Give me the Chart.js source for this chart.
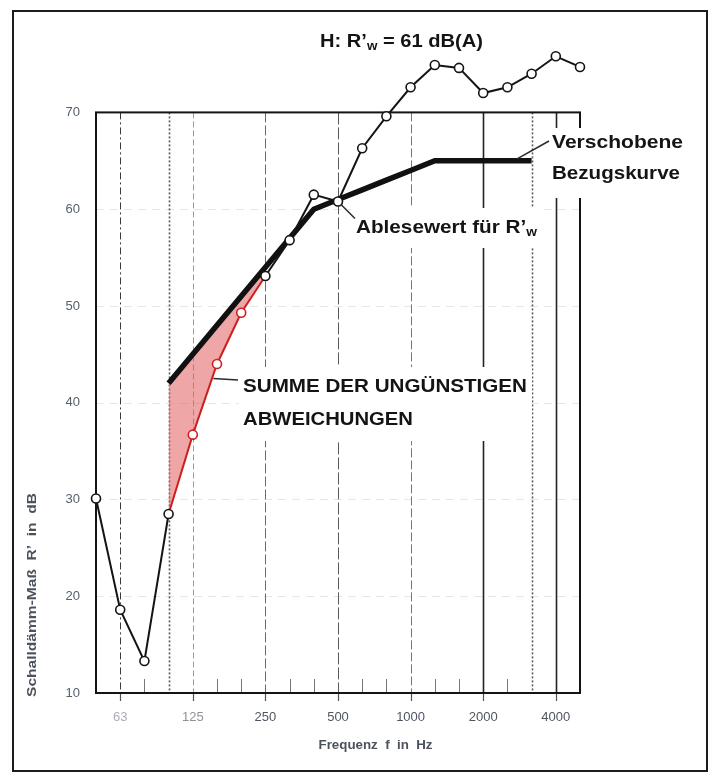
<!DOCTYPE html>
<html lang="de">
<head>
<meta charset="utf-8">
<title>Schalldämm-Maß R' – Bewertung</title>
<script src="https://cdn.jsdelivr.net/npm/chart.js@4.4.1/dist/chart.umd.min.js"></script>
<style>
  html, body { margin: 0; padding: 0; background: #ffffff; }
  #wrap { width: 712px; height: 781px; }
</style>
</head>
<body>
<div id="wrap"><canvas id="chart" width="712" height="781"></canvas></div>
<script>
// Terzbänder 50 Hz … 5000 Hz
const bands = ['50', '63', '80', '100', '125', '160', '200', '250', '315', '400', '500',
               '630', '800', '1000', '1250', '1600', '2000', '2500', '3150', '4000', '5000'];

// Beschriftete Oktavmittenfrequenzen
const tickLabels = ['63', '125', '250', '500', '1000', '2000', '4000'];

// y-Achse in dB
const yTicks = [10, 20, 30, 40, 50, 60, 70];

// Gemessenes Schalldämm-Maß R' in dB
const measured = [30.1, 18.6, 13.3, 28.5, 36.7, 44.0, 49.3, 53.1, 56.8, 61.5, 60.8,
                  66.3, 69.6, 72.6, 74.9, 74.6, 72.0, 72.6, 74.0, 75.8, 74.7];

// Bezugskurve nach DIN EN ISO 717-1, um +9 dB verschoben (100 … 3150 Hz)
const shiftedReference = [null, null, null, 42, 45, 48, 51, 54, 57, 60, 61,
                          62, 63, 64, 65, 65, 65, 65, 65, null, null];

// Messwerte unterhalb der verschobenen Bezugskurve (ungünstige Abweichungen)
const unfavourable = [null, null, null, 28.5, 36.7, 44.0, 49.3, 53.1, null, null, null,
                      null, null, null, null, null, null, null, null, null, null];

const RED = '#cc2020';
const INK = '#141414';
const FONT = '"Liberation Sans", Arial, Helvetica, sans-serif';

function boldFont(size) { return `bold ${size}px ${FONT}`; }

// Text in Teilen zeichnen (für Indizes), optional auf eine Breite gestreckt
function drawParts(ctx, parts, x, y, width) {
  const widths = parts.map(p => { ctx.font = boldFont(p.size); return ctx.measureText(p.text).width; });
  const total = widths.reduce((a, b) => a + b, 0);
  const sx = width ? width / total : 1;
  ctx.save();
  ctx.translate(x, y);
  ctx.scale(sx, 1);
  ctx.textBaseline = 'middle';
  ctx.textAlign = 'left';
  let cx = 0;
  parts.forEach((p, i) => {
    ctx.font = boldFont(p.size);
    ctx.fillText(p.text, cx, p.dy || 0);
    cx += widths[i];
  });
  ctx.restore();
}

function line(ctx, x1, y1, x2, y2) {
  ctx.beginPath(); ctx.moveTo(x1, y1); ctx.lineTo(x2, y2); ctx.stroke();
}

// Linienstile der senkrechten Rasterlinien (nach Bandindex)
const verticalGrid = {
  1:  { color: '#3a3a3a', width: 1,   dash: [7, 3, 2, 3] },
  3:  { color: '#5a5a5a', width: 1.6, dash: [2, 2] },
  4:  { color: '#9a9a9a', width: 1,   dash: [6, 3] },
  7:  { color: '#6a6a6a', width: 1,   dash: [10, 3] },
  10: { color: '#5a5a5a', width: 1,   dash: [12, 3] },
  13: { color: '#777777', width: 1,   dash: [9, 3] },
  16: { color: '#222222', width: 1.6, dash: [] },
  18: { color: '#5a5a5a', width: 1.6, dash: [2, 2] },
  19: { color: '#222222', width: 1.6, dash: [] }
};
const octaveIdx = [1, 4, 7, 10, 13, 16, 19];

const backgroundPlugin = {
  id: 'paperGrid',
  beforeDraw(chart) {
    const { ctx } = chart;
    ctx.save();
    ctx.fillStyle = '#ffffff';
    ctx.fillRect(0, 0, chart.width, chart.height);
    // Außenrahmen
    ctx.strokeStyle = '#1c1c1c';
    ctx.lineWidth = 2;
    ctx.strokeRect(13, 11, 694, 760);
    ctx.restore();
  },
  beforeDatasetsDraw(chart) {
    const { ctx, scales: { x, y } } = chart;
    const top = y.getPixelForValue(70);
    const bottom = y.getPixelForValue(10);
    const left = x.getPixelForValue(0);
    const right = x.getPixelForValue(bands.length - 1);
    ctx.save();

    // schwache waagerechte Rasterlinien
    ctx.strokeStyle = '#e6e6e6';
    ctx.lineWidth = 1;
    ctx.setLineDash([8, 6]);
    yTicks.slice(1, -1).forEach(v => {
      const py = Math.round(y.getPixelForValue(v)) + 0.5;
      line(ctx, left, py, right, py);
    });

    // senkrechte Rasterlinien
    Object.keys(verticalGrid).forEach(k => {
      const i = Number(k);
      const s = verticalGrid[i];
      const px = Math.round(x.getPixelForValue(i)) + 0.5;
      ctx.strokeStyle = s.color;
      ctx.lineWidth = s.width;
      ctx.setLineDash(s.dash);
      line(ctx, px, top, px, bottom);
    });
    ctx.setLineDash([]);

    // Oktavmarken unter der Grundlinie
    ctx.strokeStyle = '#555555';
    ctx.lineWidth = 1.2;
    octaveIdx.forEach(i => {
      const px = Math.round(x.getPixelForValue(i)) + 0.5;
      line(ctx, px, bottom, px, bottom + 8);
    });

    // kurze Terzmarken an der Grundlinie
    ctx.strokeStyle = '#777777';
    ctx.lineWidth = 1;
    bands.forEach((b, i) => {
      if (i === 0 || i === bands.length - 1 || verticalGrid[i]) return;
      const px = Math.round(x.getPixelForValue(i)) + 0.5;
      line(ctx, px, bottom, px, bottom - 14);
    });

    // Diagrammrahmen
    ctx.strokeStyle = INK;
    ctx.lineWidth = 2;
    ctx.strokeRect(left, top, right - left, bottom - top);
    ctx.restore();
  }
};

const annotationPlugin = {
  id: 'annotations',
  afterDatasetsDraw(chart) {
    const { ctx, scales: { x, y } } = chart;
    ctx.save();
    ctx.fillStyle = INK;
    ctx.strokeStyle = '#2a2a2a';
    ctx.lineWidth = 1.5;

    // Verschobene Bezugskurve
    ctx.fillStyle = '#ffffff';
    ctx.fillRect(546, 128, 158, 70);
    ctx.fillStyle = INK;
    line(ctx, x.getPixelForValue(17.4), y.getPixelForValue(65) - 2, 549, 141);
    drawParts(ctx, [{ text: 'Verschobene', size: 18 }], 552, 143, 131);
    drawParts(ctx, [{ text: 'Bezugskurve', size: 18 }], 552, 174, 128);

    // Ablesewert bei 500 Hz
    ctx.fillStyle = '#ffffff';
    ctx.fillRect(351, 208, 190, 40);
    ctx.fillStyle = INK;
    const ax = x.getPixelForValue(10), ay = y.getPixelForValue(measured[10]);
    line(ctx, ax + 3, ay + 3, ax + 17, ay + 17);
    drawParts(ctx, [{ text: 'Ablesewert für R’', size: 18 }, { text: 'w', size: 12, dy: 5 }], 356, 228, 181);

    // Summe der ungünstigen Abweichungen
    ctx.fillStyle = '#ffffff';
    ctx.fillRect(239, 367, 293, 74);
    ctx.fillStyle = INK;
    const sx = x.getPixelForValue(4.85), sy = y.getPixelForValue(42.5);
    line(ctx, sx, sy, 238, 380);
    drawParts(ctx, [{ text: 'SUMME DER UNGÜNSTIGEN', size: 18 }], 243, 387, 284);
    drawParts(ctx, [{ text: 'ABWEICHUNGEN', size: 18 }], 243, 420, 170);
    ctx.restore();
  },
  afterDraw(chart) {
    const { ctx, scales: { x } } = chart;
    ctx.save();
    // Überschrift
    ctx.fillStyle = INK;
    drawParts(ctx, [{ text: 'H: R’', size: 18 }, { text: 'w', size: 12, dy: 5 }, { text: ' = 61 dB(A)', size: 18 }], 320, 42, 163);

    // Achsentitel
    ctx.fillStyle = '#4c525b';
    const fx = x.getPixelForValue(11.55);
    drawParts(ctx, [{ text: 'Frequenz  f  in  Hz', size: 13 }], fx - 57, 745, 114);

    ctx.translate(32, 697);
    ctx.rotate(-Math.PI / 2);
    drawParts(ctx, [{ text: 'Schalldämm-Maß  R’  in  dB', size: 13 }], 0, 0, 204);
    ctx.restore();
  }
};

new Chart(document.getElementById('chart'), {
  type: 'line',
  data: {
    labels: bands,
    datasets: [
      {
        label: "R' gemessen",
        data: measured,
        borderColor: INK,
        borderWidth: 2,
        tension: 0,
        pointRadius: 4.5,
        pointBorderWidth: 1.6,
        pointBackgroundColor: '#ffffff',
        pointBorderColor: ctx => (ctx.dataIndex >= 4 && ctx.dataIndex <= 6) ? RED : INK,
        segment: {
          borderColor: ctx => (ctx.p0DataIndex >= 3 && ctx.p1DataIndex <= 7) ? RED : INK
        },
        clip: false,
        fill: false
      },
      {
        label: 'Verschobene Bezugskurve',
        data: shiftedReference,
        borderColor: '#111111',
        borderWidth: 5.5,
        tension: 0,
        pointRadius: 0,
        borderCapStyle: 'butt',
        borderJoinStyle: 'miter',
        spanGaps: false,
        fill: false
      },
      {
        label: 'Ungünstige Abweichungen',
        data: unfavourable,
        borderWidth: 0,
        borderColor: 'rgba(0,0,0,0)',
        pointRadius: 0,
        tension: 0,
        backgroundColor: 'rgba(226, 92, 92, 0.55)',
        fill: { target: 1 }
      }
    ]
  },
  options: {
    responsive: false,
    animation: false,
    devicePixelRatio: 1,
    layout: { padding: { left: 0, right: 132, top: 35, bottom: 0 } },
    plugins: {
      legend: { display: false },
      tooltip: { enabled: false },
      filler: { propagate: false }
    },
    scales: {
      x: {
        type: 'category',
        offset: false,
        grid: { display: false, drawTicks: false },
        border: { display: false },
        ticks: {
          autoSkip: false,
          maxRotation: 0,
          padding: 17,
          font: { family: FONT, size: 13 },
          color: ctx => {
            const b = bands[ctx.index];
            return b === '63' ? '#a9aeb5' : (b === '125' ? '#8d929a' : '#4f5661');
          },
          callback: (val, idx) => tickLabels.includes(bands[idx]) ? bands[idx] : ''
        },
        afterFit: s => { s.height = 88; }
      },
      y: {
        type: 'linear',
        min: 10,
        max: 78,
        grid: { display: false, drawTicks: false },
        border: { display: false },
        afterBuildTicks: s => { s.ticks = yTicks.map(v => ({ value: v })); },
        ticks: {
          padding: 16,
          font: { family: FONT, size: 13 },
          color: '#56606e'
        },
        afterFit: s => { s.width = 96; }
      }
    }
  },
  plugins: [backgroundPlugin, annotationPlugin]
});
</script>
</body>
</html>
